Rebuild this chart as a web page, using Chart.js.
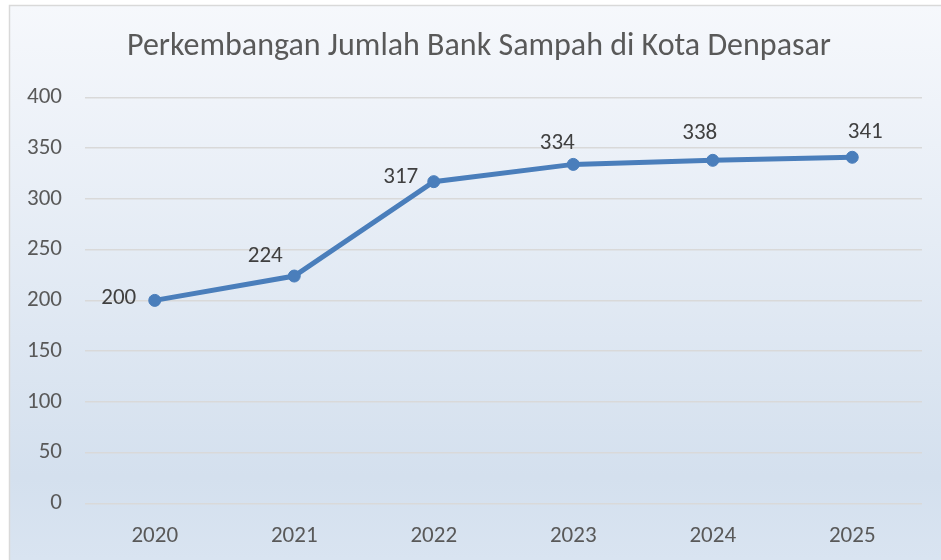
<!DOCTYPE html>
<html>
<head>
<meta charset="utf-8">
<script src="https://cdn.jsdelivr.net/npm/chart.js@4"></script>
<style>
  html, body { margin: 0; padding: 0; background: #ffffff; }
  #wrap { position: relative; width: 941px; height: 560px; }
</style>
</head>
<body>
<div id="wrap"><canvas id="lineChart" width="941" height="560"></canvas></div>
<script>
const years = ["2020", "2021", "2022", "2023", "2024", "2025"];
const bankSampah = [200, 224, 317, 334, 338, 341];
const yTicks = [0, 50, 100, 150, 200, 250, 300, 350, 400];

// where each value label sits relative to its point (dx, dy)
const labelOffsets = [[-36, -2], [-29, -20], [-33, -4], [-16, -21], [-13, -27], [13, -25]];

const FONT = "Carlito, Lato, 'Noto Sans', sans-serif";

const frameBg = {
    id: "frameBg",
    afterLayout(chart) {
        // the excel frame runs past the right edge, so its centre sits a bit right
        if (chart.titleBlock) {
            chart.titleBlock.left += 6;
            chart.titleBlock.right += 6;
        }
    },
    beforeDraw(chart) {
        const ctx = chart.ctx;
        const g = ctx.createLinearGradient(0, 5, 0, 560);
        g.addColorStop(0, "#f6f8fc");
        g.addColorStop(0.85, "#d4e0ee");
        g.addColorStop(1, "#d9e4f1");
        ctx.save();
        ctx.fillStyle = "#ffffff";
        ctx.fillRect(0, 0, chart.width, chart.height);
        ctx.fillStyle = g;
        ctx.fillRect(9, 5, chart.width, chart.height);
        ctx.strokeStyle = "#d9d9d9";
        ctx.lineWidth = 1.5;
        ctx.strokeRect(9.5, 5.5, chart.width + 20, chart.height + 20);
        ctx.restore();
    }
};

const valueLabels = {
    id: "valueLabels",
    afterDatasetsDraw(chart) {
        const ctx = chart.ctx;
        const meta = chart.getDatasetMeta(0);
        ctx.save();
        ctx.font = "23px " + FONT;
        ctx.fillStyle = "#404040";
        ctx.textAlign = "center";
        ctx.textBaseline = "middle";
        meta.data.forEach((pt, i) => {
            const o = labelOffsets[i];
            ctx.fillText(String(bankSampah[i]), pt.x + o[0], pt.y + o[1]);
        });
        ctx.restore();
    }
};

new Chart(document.getElementById("lineChart"), {
    type: "line",
    data: {
        labels: years,
        datasets: [{
            data: bankSampah,
            borderColor: "#4a7ebb",
            backgroundColor: "#4a7ebb",
            borderWidth: 5,
            pointRadius: 6,
            pointHoverRadius: 6,
            pointBorderWidth: 1,
            pointBackgroundColor: "#4a7ebb",
            pointBorderColor: "#4a7ebb",
            tension: 0,
            fill: false
        }]
    },
    options: {
        responsive: false,
        animation: false,
        events: [],
        layout: { padding: { left: 24, right: 19, top: 0, bottom: -9 } },
        plugins: {
            legend: { display: false },
            tooltip: { enabled: false },
            title: {
                display: true,
                text: "Perkembangan Jumlah Bank Sampah di Kota Denpasar",
                color: "#595959",
                font: { family: FONT, size: 32, weight: "normal" },
                padding: { top: 28, bottom: 31 }
            }
        },
        scales: {
            x: {
                offset: true,
                grid: { display: false, drawTicks: false },
                border: { display: false },
                ticks: {
                    color: "#595959",
                    font: { family: FONT, size: 23 },
                    padding: 19
                }
            },
            y: {
                min: 0,
                max: 400,
                afterBuildTicks(axis) {
                    axis.ticks = yTicks.map(v => ({ value: v }));
                },
                afterFit(axis) {
                    axis.width = 61;
                },
                grid: { color: "#d9d9d9", lineWidth: 1.5, drawTicks: false },
                border: { display: false },
                ticks: {
                    color: "#595959",
                    font: { family: FONT, size: 23 },
                    padding: 23
                }
            }
        }
    },
    plugins: [frameBg, valueLabels]
});
</script>
</body>
</html>
